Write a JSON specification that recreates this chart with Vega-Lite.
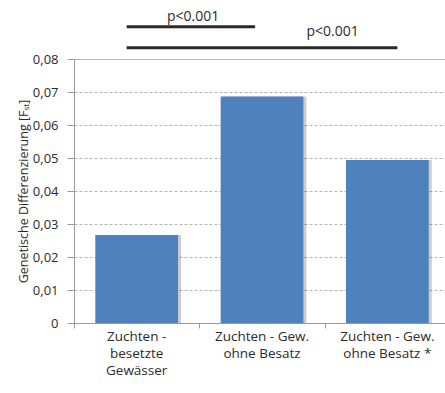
{
  "$schema": "https://vega.github.io/schema/vega-lite/v6.json",
  "width": 376,
  "height": 264,
  "autosize": "none",
  "padding": {"left": 74, "top": 59, "right": 0, "bottom": 70},
  "background": "white",
  "config": {
    "font": "Open Sans",
    "view": {"stroke": null},
    "axisY": {
      "titleFontSize": 12.5,
      "titleFontWeight": "normal",
      "titleColor": "#2b2b2b",
      "titlePadding": 2,
      "labelOverlap": false,
      "labelFontSize": 13,
      "labelColor": "#2b2b2b",
      "labelPadding": 9,
      "tickSize": 7,
      "tickColor": "#9a9a9a",
      "domainColor": "#9a9a9a",
      "grid": true,
      "gridColor": "#b5b5b5"
    }
  },
  "datasets": {
    "fst": [
      {"gruppe": "Zuchten -|besetzte|Gewässer", "fst": 0.0267},
      {"gruppe": "Zuchten - Gew.|ohne Besatz", "fst": 0.0686},
      {"gruppe": "Zuchten - Gew.|ohne Besatz *", "fst": 0.0494}
    ],
    "sig": [
      {"von": 0.42, "bis": 1.445, "hoehe": 0.0898, "text": "p<0.001", "textpos": 0.95, "texthoehe": 0.0928},
      {"von": 0.42, "bis": 2.58, "hoehe": 0.0834, "text": "p<0.001", "textpos": 2.063, "texthoehe": 0.0882}
    ]
  },
  "layer": [
    {
      "data": {"name": "fst"},
      "encoding": {
        "x": {"field": "gruppe", "type": "nominal", "sort": null, "scale": {"paddingInner": 0.34, "paddingOuter": 0.17},
          "axis": {"title": null, "labelAngle": 0, "labelExpr": "split(datum.label, '|')", "labelFontSize": 13.5, "labelColor": "#2b2b2b", "labelLineHeight": 17, "labelPadding": 6, "ticks": false, "domainColor": "#9a9a9a", "labelBaseline": "top"}},
        "y": {"field": "fst", "type": "quantitative", "scale": {"domain": [0, 0.08], "nice": false},
          "axis": {
            "title": "Genetische Differenzierung [Fₛₜ]",
            "values": [0, 0.01, 0.02, 0.03, 0.04, 0.05, 0.06, 0.07, 0.08],
            "labelExpr": "datum.value == 0 ? '0' : replace(format(datum.value, '.2f'), '.', ',')",
            "gridDash": {"condition": {"test": "datum.value == 0.08", "value": []}, "value": [3, 2]}
          }}
      },
      "layer": [
        {"mark": {"type": "bar", "color": "#000000", "opacity": 0.2, "xOffset": 3}},
        {"mark": {"type": "bar", "color": "#4f81bd"}}
      ]
    },
    {
      "data": {"name": "sig"},
      "layer": [
        {
          "mark": {"type": "rule", "color": "#2a2a2a", "strokeWidth": 3},
          "encoding": {
            "x": {"field": "von", "type": "quantitative", "scale": {"domain": [0, 3], "nice": false},
              "axis": {"orient": "bottom", "values": [0, 1, 2, 3], "labels": false, "domain": false, "grid": false, "title": null, "tickSize": 5, "tickColor": "#9a9a9a"}},
            "x2": {"field": "bis"},
            "y": {"field": "hoehe", "type": "quantitative",
              "axis": {
                "title": "Genetische Differenzierung [Fₛₜ]",
                "values": [0, 0.01, 0.02, 0.03, 0.04, 0.05, 0.06, 0.07, 0.08],
                "labelExpr": "datum.value == 0 ? '0' : replace(format(datum.value, '.2f'), '.', ',')",
                "gridDash": {"condition": {"test": "datum.value == 0.08", "value": []}, "value": [3, 2]}
              }}
          }
        },
        {
          "mark": {"type": "text", "fontSize": 14, "color": "#2b2b2b", "baseline": "middle"},
          "encoding": {
            "x": {"field": "textpos", "type": "quantitative"},
            "y": {"field": "texthoehe", "type": "quantitative",
              "axis": {
                "title": "Genetische Differenzierung [Fₛₜ]",
                "values": [0, 0.01, 0.02, 0.03, 0.04, 0.05, 0.06, 0.07, 0.08],
                "labelExpr": "datum.value == 0 ? '0' : replace(format(datum.value, '.2f'), '.', ',')",
                "gridDash": {"condition": {"test": "datum.value == 0.08", "value": []}, "value": [3, 2]}
              }},
            "text": {"field": "text"}
          }
        }
      ]
    }
  ],
  "resolve": {"scale": {"x": "independent"}, "axis": {"x": "independent"}}
}
